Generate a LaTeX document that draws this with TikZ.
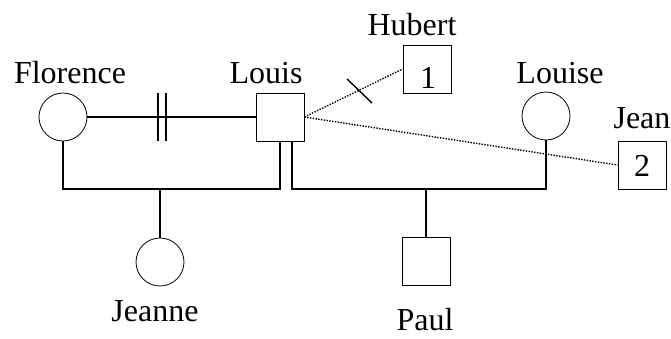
\documentclass[tikz,border=0pt]{standalone}
\usepackage{fontspec}
\setmainfont{Liberation Serif}
\usetikzlibrary{calc}
\begin{document}
\begin{tikzpicture}[x=1pt,y=-1pt,
  female/.style={circle,draw,line width=0.8pt,minimum size=48pt,inner sep=0pt},
  male/.style={rectangle,draw,line width=0.8pt,minimum size=48pt,inner sep=0pt},
  lbl/.style={anchor=base,inner sep=0pt,font=\fontsize{32}{36}\selectfont},
  rel/.style={line width=1.8pt},
  aff/.style={line width=1.4pt,dash pattern=on 1.4pt off 1.4pt}]
\useasboundingbox (0,0) rectangle (671,338);
\node[female] (Florence) at (63,117) {};
\node[male] (Louis) at (280,117) {};
\node[male] (Hubert) at (427,69) {};
\node[female] (Louise) at (546,116) {};
\node[male] (Jean) at (642,165) {};
\node[female] (Jeanne) at (160,262) {};
\node[male] (Paul) at (426,261) {};
\node[lbl] (tFlorence) at (70,83) {Florence};
\node[lbl] (tLouis) at (266,83) {Louis};
\node[lbl] (tHubert) at (412,35) {Hubert};
\node[lbl] (tLouise) at (560,83) {Louise};
\node[lbl] (tJean) at (642,128) {Jean};
\node[lbl] (tJeanne) at (155,321) {Jeanne};
\node[lbl] (tPaul) at (425,330) {Paul};
\node[lbl] (n1) at (428,88) {1};
\node[lbl] (n2) at (642,176) {2};
% marriage Florence - Louis (divorced)
\draw[rel] (Florence.east) -- (Louis.west);
\coordinate (d1a) at (158,93); \coordinate (d1b) at (158,141);
\coordinate (d2a) at (166,93); \coordinate (d2b) at (166,141);
\draw[rel] (d1a) -- (d1b);
\draw[rel] (d2a) -- (d2b);
% children of Florence and Louis
\coordinate (fl) at (63,189);
\draw[rel] (Florence.south) -- (fl) -| (Louis.south);
\coordinate (fj) at (160,189);
\draw[rel] (fj) -- (Jeanne.north);
% Louis and Louise
\coordinate (ls) at ($(Louis.south)+(12,0)$);
\coordinate (ll) at (292,189);
\draw[rel] (ls) -- (ll) -| (Louise.south);
\coordinate (lp) at (426,189);
\draw[rel] (lp) -- (Paul.north);
% affairs
\draw[aff] (Louis.east) -- (Hubert.west);
\coordinate (ta) at (347,79); \coordinate (tb) at (372,103);
\draw[line width=1.4pt] (ta) -- (tb);
\draw[aff] (Louis.east) -- (Jean.west);
\end{tikzpicture}
\end{document}
